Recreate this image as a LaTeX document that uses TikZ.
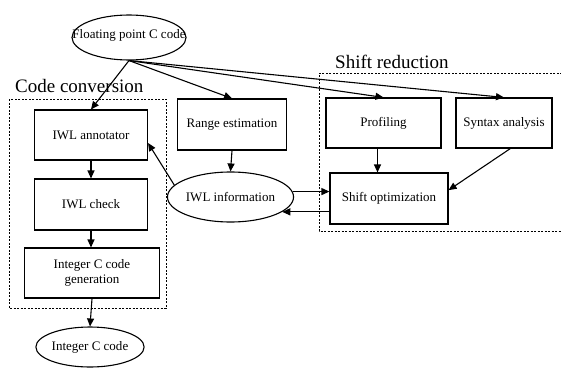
\documentclass[tikz,border=0pt]{standalone}
\usepackage{fontspec}
\setmainfont{Liberation Serif}
\usetikzlibrary{shapes.geometric,arrows.meta}

\begin{document}
\begin{tikzpicture}[x=1pt,y=-1pt,
    box/.style={draw,rectangle,line width=1.1pt,inner sep=0pt,align=center,font=\fontsize{13}{15}\selectfont},
    oval/.style={draw,ellipse,line width=1.1pt,inner sep=0pt,font=\fontsize{13}{15}\selectfont},
    arr/.style={-{Triangle[length=8pt,width=7pt]},line width=1.1pt},
    groupbox/.style={dash pattern=on 2pt off 1.5pt,line width=0.9pt},
    grouplabel/.style={anchor=base west,inner sep=0pt,font=\fontsize{19}{22}\selectfont}]
  \useasboundingbox (0,0) rectangle (561,369);
  \node[oval,minimum width=114pt,minimum height=45pt] (float) at (129,37.5) {};
  \node[inner sep=0pt,font=\fontsize{13}{15}\selectfont] (floattext) at (129,35) {Floating point C code};
  % code conversion group
  \node[grouplabel] (convlabel) at (15,92) {Code conversion};
  \draw[groupbox] (9,99) rectangle (166,308);
  \node[box,minimum width=113pt,minimum height=50pt] (annot) at (91,135) {IWL annotator};
  \node[box,minimum width=113pt,minimum height=51pt] (check) at (91,204.5) {IWL check};
  \node[box,minimum width=135pt,minimum height=50pt] (gen) at (92,273) {Integer C code\\generation};
  \node[oval,minimum width=107pt,minimum height=40pt] (intc) at (90,347) {Integer C code};
  \node[box,minimum width=109pt,minimum height=51pt] (range) at (232,124.5) {Range estimation};
  \node[oval,minimum width=115pt,minimum height=50pt] (info) at (230.5,197) {IWL information};
  % shift reduction group
  \node[grouplabel] (shiftlabel) at (335,68) {Shift reduction};
  \draw[groupbox] (562,73) -- (319,73) -- (319,231) -- (562,231);
  \node[box,minimum width=115pt,minimum height=50pt] (prof) at (383.5,123) {Profiling};
  \node[box,minimum width=96pt,minimum height=50pt] (syntax) at (504,123) {Syntax analysis};
  \node[box,minimum width=118pt,minimum height=51pt] (opt) at (389,198.5) {Shift optimization};
  \draw[arr] (float.south) -- (annot.north);
  \draw[arr] (float.south) -- (range.north);
  \draw[arr] (float.south) -- (prof.north);
  \draw[arr] (float.south) -- (syntax.north);
  \draw[arr] (check.south |- annot.south) -- (check.north);
  \draw[arr] (check.south) -- (check.south |- gen.north);
  \draw[arr] (gen.south) -- (intc.north);
  \draw[arr] (range.south) -- (info.north);
  \draw[arr] (info.168) -- (annot.-8);
  \draw[arr] (info.5) -- (info.5 -| opt.west);
  \draw[arr] (opt.west |- info.-16) -- (info.-16);
  \draw[arr] ([xshift=-6pt]prof.south) -- ([xshift=-6pt]prof.south |- opt.north);
  \draw[arr] (syntax.-76) -- (opt.8);
\end{tikzpicture}
\end{document}
